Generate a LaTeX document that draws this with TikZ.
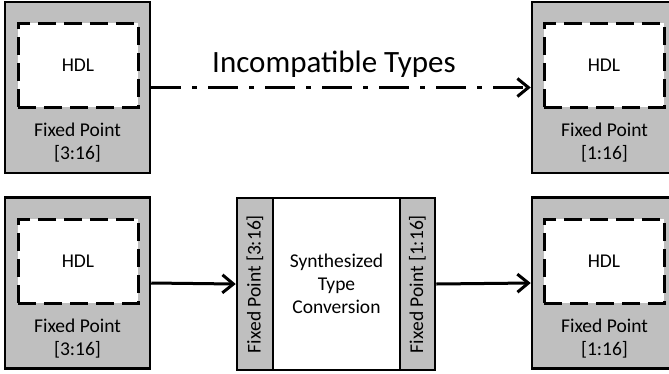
\documentclass[tikz,border=0pt]{standalone}
\usepackage{fontspec}
\setmainfont{Carlito}
\usetikzlibrary{arrows.meta,positioning}
\definecolor{boxgray}{RGB}{191,191,191}
\tikzset{font=\fontsize{19.5}{23}\selectfont}
\tikzset{every node/.append style={transform shape=false}}
\tikzset{
  outerbox/.style={draw,line width=2.5pt,fill=boxgray,minimum width=145pt,minimum height=171pt,inner sep=0pt},
  hdlbox/.style={draw,line width=3pt,dash pattern=on 18pt off 8pt,fill=white,minimum width=120pt,minimum height=84pt,inner sep=0pt},
  fixlabel/.style={align=center,inner sep=0pt},
  convbox/.style={draw,line width=2.5pt,minimum height=172pt,inner sep=0pt},
  link/.style={line width=3pt,-{Straight Barb[length=11pt,width=18pt]}}
}

\begin{document}
\begin{tikzpicture}[x=1pt,y=-1pt]
\useasboundingbox (0,0) rectangle (669,373);
\node[outerbox] (srcA) at (77.5,87.5) {};
\node[hdlbox] (hdlA) at (78,65) {HDL};
\node[fixlabel] (fixA) at (77.5,143) {Fixed Point\\{[3:16]}};
\node[outerbox] (dstA) at (604.5,87.5) {};
\node[hdlbox] (hdlB) at (604,65) {HDL};
\node[fixlabel] (fixB) at (604.5,143) {Fixed Point\\{[1:16]}};
\draw[link,dash pattern=on 30pt off 11pt on 5pt off 11pt] (srcA.east) -- (dstA.west)
 node[midway,above=5pt,xshift=-7pt,font=\fontsize{31}{37}\selectfont] (clash) {Incompatible Types};
\node[outerbox] (srcB) at (77.5,283) {};
\node[hdlbox] (hdlC) at (78,261) {HDL};
\node[fixlabel] (fixC) at (77.5,339) {Fixed Point\\{[3:16]}};
\node[outerbox] (dstB) at (604.5,283) {};
\node[hdlbox] (hdlD) at (604,261) {HDL};
\node[fixlabel] (fixD) at (604.5,339) {Fixed Point\\{[1:16]}};
\node[convbox,fill=white,minimum width=127pt,align=center] (synth) at (336.5,284) {Synthesized\\Type\\Conversion};
\node[convbox,fill=boxgray,minimum width=36pt] (inL) at (255,284) {};
\node[convbox,fill=boxgray,minimum width=35pt] (outR) at (417.5,284) {};
\node[rotate=90] (fixIn) at (inL) {Fixed Point [3:16]};
\node[rotate=90] (fixOut) at (outR) {Fixed Point [1:16]};
\draw[link] (srcB.east) -- (inL.west);
\draw[link] (outR.east) -- (dstB.west);
\end{tikzpicture}
\end{document}
